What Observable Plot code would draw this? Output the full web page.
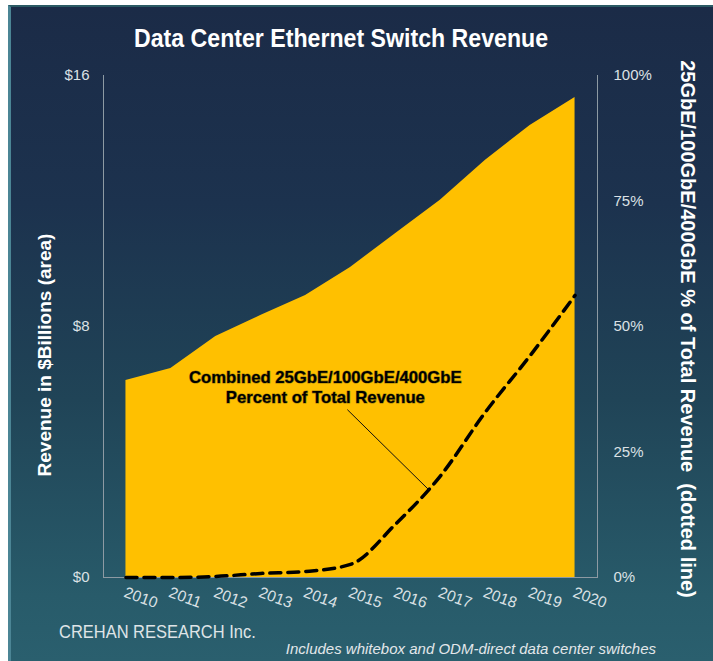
<!DOCTYPE html>
<html><head><meta charset="utf-8">
<script src="https://cdn.jsdelivr.net/npm/d3@7"></script>
<script src="https://cdn.jsdelivr.net/npm/@observablehq/plot@0.6"></script>
<style>
html,body{margin:0;padding:0;background:#fff;}
body{position:relative;width:713px;height:661px;overflow:hidden;font-family:"Liberation Sans",Arial,sans-serif;}
#panel{position:absolute;left:8px;top:5px;width:705px;height:656px;box-sizing:border-box;
  background:linear-gradient(180deg,#1b2b47 0%,#1c324e 30%,#204457 60%,#285b6a 90%,#2a5f6e 100%);
  border-left:3px solid #4b8595;border-top:2px solid #2b5a64;}
#chart{position:absolute;left:0;top:0;}
.t{position:absolute;white-space:nowrap;line-height:1;}
#title{left:341px;top:25px;transform:translateX(-50%) scaleX(0.89);color:#fff;font-weight:bold;font-size:26px;}
#ylab{left:44px;top:355px;transform:translate(-50%,-50%) rotate(-90deg);color:#fff;font-weight:bold;font-size:19px;}
#y2lab{left:688px;top:329px;transform:translate(-50%,-50%) rotate(90deg);color:#fff;font-weight:bold;font-size:20px;}
#src{left:59px;top:623px;transform:scaleX(0.89);transform-origin:0 0;color:#dfe4e7;font-size:18.5px;}
#note{right:57px;top:641px;color:#e3e7ea;font-style:italic;font-size:15px;}
</style></head><body>
<div id="panel"></div>
<div id="chart"></div>
<div class="t" id="title">Data Center Ethernet Switch Revenue</div>
<div class="t" id="ylab">Revenue in $Billions (area)</div>
<div class="t" id="y2lab">25GbE/100GbE/400GbE % of Total Revenue&nbsp; (dotted line)</div>
<div class="t" id="src">CREHAN RESEARCH Inc.</div>
<div class="t" id="note">Includes whitebox and ODM-direct data center switches</div>
<script>
// ---- data ----
const years = [2010, 2011, 2012, 2013, 2014, 2015, 2016, 2017, 2018, 2019, 2020];
const revenue = [6.28, 6.66, 7.68, 8.35, 8.99, 9.88, 10.96, 12.02, 13.29, 14.41, 15.30]; // $B
const highSpeedPct = [0, 0, 0.2, 0.8, 1.2, 2.6, 10.6, 20.2, 32.9, 44.2, 56.2]; // % of total
const leftTickValues = [0, 8, 16];
const leftTickLabels = ["$0", "$8", "$16"];
const rightTickValues = [0, 25, 50, 75, 100];
const rightTickLabels = ["0%", "25%", "50%", "75%", "100%"];
const noteLines = ["Combined 25GbE/100GbE/400GbE", "Percent of Total Revenue"];
const noteAnchor = [{year: 2014.44, value: 6.1}];
const leader = [{year1: 2014.93, value1: 5.35, year2: 2016.74, value2: 2.80}];

const yMax = 16;
const toY = p => p * yMax / 100;
const data = years.map((y, i) => ({year: y, revenue: revenue[i], pct: highSpeedPct[i]}));

const chart = Plot.plot({
  width: 713, height: 661,
  marginLeft: 103, marginRight: 116, marginTop: 75, marginBottom: 84,
  style: {background: "transparent", fontFamily: "'Liberation Sans', Arial, sans-serif", overflow: "visible"},
  x: {type: "linear", domain: [2009.5, 2020.5], axis: null},
  y: {domain: [0, yMax], axis: null},
  marks: [
    Plot.frame({anchor: "left", stroke: "#8d9aa3"}),
    Plot.frame({anchor: "right", stroke: "#8d9aa3"}),
    Plot.frame({anchor: "bottom", stroke: "#8d9aa3"}),
    Plot.areaY(data, {x: "year", y: "revenue", fill: "#FFC000"}),
    Plot.lineY(data, {x: "year", y: d => toY(d.pct), stroke: "#000", strokeWidth: 3.5,
      strokeDasharray: "11,7", curve: "monotone-x"}),
    Plot.link(leader, {x1: "year1", y1: "value1", x2: "year2", y2: "value2", stroke: "#111", strokeWidth: 1}),
    Plot.text(noteAnchor, {x: "year", y: "value", text: () => noteLines.join("\n"),
      lineHeight: 1.2, fontSize: 16.7, fontWeight: "bold", fill: "#000",
      stroke: "#4d4a12", strokeWidth: 1.2, strokeOpacity: 0.55}),
    Plot.axisY({anchor: "left", ticks: leftTickValues,
      tickFormat: d => leftTickLabels[leftTickValues.indexOf(d)],
      tickSize: 0, tickPadding: 14, fontSize: 15, fill: "#dbe1e5", label: null}),
    Plot.axisY({anchor: "right", ticks: rightTickValues.map(toY),
      tickFormat: d => rightTickLabels[rightTickValues.map(toY).indexOf(d)],
      tickSize: 0, tickPadding: 16, fontSize: 15, fill: "#dbe1e5", label: null}),
    Plot.text(years, {x: d => d, frameAnchor: "bottom", text: d => String(d), rotate: 20,
      textAnchor: "start", dx: -3, dy: 19, fontSize: 15.5, fill: "#dbe1e5"})
  ]
});
document.getElementById("chart").appendChild(chart);
</script>
</body></html>
